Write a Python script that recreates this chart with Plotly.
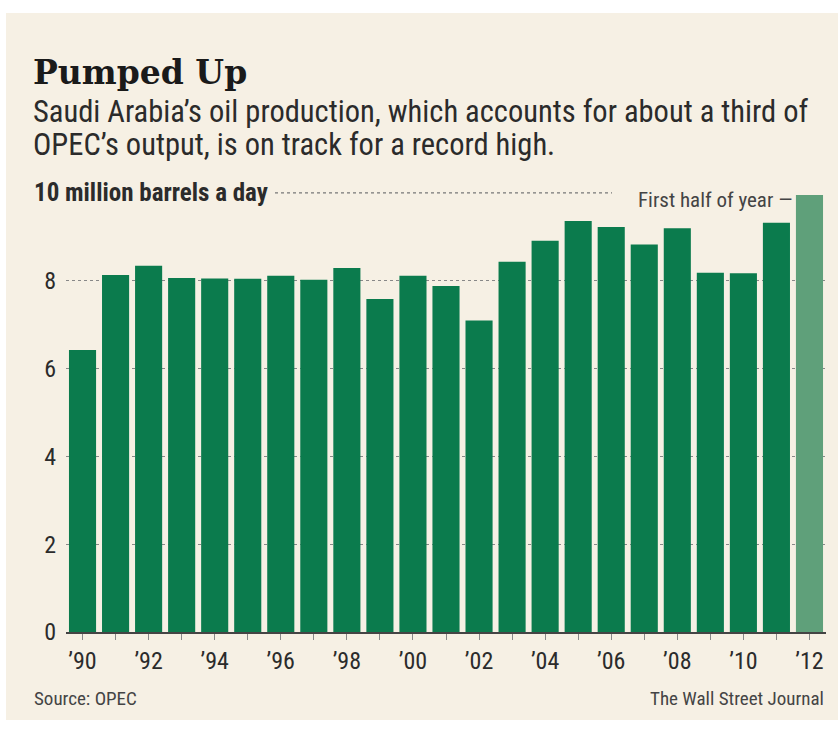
import plotly.graph_objects as go

years = list(range(1990, 2013))
production = [6.42, 8.13, 8.34, 8.06, 8.05, 8.04, 8.11, 8.02, 8.29, 7.58, 8.11,
              7.88, 7.09, 8.43, 8.91, 9.36, 9.22, 8.82, 9.19, 8.18, 8.17, 9.32, 9.95]
tick_labels = [("\u2019" + str(y)[2:] if (y % 2 == 0) else "") for y in years]
y_ticks = [0, 2, 4, 6, 8]

DARK = "#0b7b4d"
LIGHT = "#5fa07a"
CREAM = "#f6f0e4"
TEXT = "#2b2b2b"
NARROW = "Liberation Sans Narrow, Roboto Condensed, Arial Narrow, Liberation Sans, sans-serif"

colors = [DARK] * (len(years) - 1) + [LIGHT]

L, R, T, B = 66, 12, 184, 97
W, H = 838, 729
PW, PH = W - L - R, H - T - B

def px(x):
    return (x - L) / PW

def py(y):
    return (H - B - y) / PH

fig = go.Figure()
fig.add_trace(go.Bar(x=years, y=production, marker=dict(color=colors, line=dict(width=0)),
                     hoverinfo="x+y"))

shapes = [
    dict(type="rect", xref="paper", yref="paper", x0=px(6), x1=px(838), y0=py(720), y1=py(13),
         fillcolor=CREAM, line=dict(width=0), layer="below"),
    dict(type="line", xref="paper", yref="y", x0=px(275), x1=px(612), y0=10, y1=10,
         line=dict(color="#777", width=1.2, dash="dot"), layer="below"),
]

annotations = [
    dict(text="<b>Pumped Up</b>", x=px(31), y=py(72), xref="paper", yref="paper",
         xanchor="left", yanchor="middle", showarrow=False,
         font=dict(family="DejaVu Serif", size=33, color="#1a1a1a")),
    dict(text="Saudi Arabia\u2019s oil production, which accounts for about a third of",
         x=px(31), y=py(112), xref="paper", yref="paper", xanchor="left", yanchor="middle",
         showarrow=False, font=dict(family=NARROW, size=30.5, color=TEXT)),
    dict(text="OPEC\u2019s output, is on track for a record high.",
         x=px(31), y=py(144), xref="paper", yref="paper", xanchor="left", yanchor="middle",
         showarrow=False, font=dict(family=NARROW, size=30.5, color=TEXT)),
    dict(text="<b>10 million barrels a day</b>", x=px(32), y=10, xref="paper", yref="y",
         xanchor="left", yanchor="middle", showarrow=False,
         font=dict(family=NARROW, size=25, color=TEXT)),
    dict(text="First half of year \u2014", x=px(794), y=py(200), xref="paper", yref="paper",
         xanchor="right", yanchor="middle", showarrow=False,
         font=dict(family=NARROW, size=21, color="#444")),
    dict(text="Source: OPEC", x=px(32), y=py(698), xref="paper", yref="paper",
         xanchor="left", yanchor="middle", showarrow=False,
         font=dict(family=NARROW, size=19, color="#444")),
    dict(text="The Wall Street Journal", x=px(826), y=py(698), xref="paper", yref="paper",
         xanchor="right", yanchor="middle", showarrow=False,
         font=dict(family=NARROW, size=19, color="#444")),
]

fig.update_layout(
    width=W, height=H,
    margin=dict(l=L, r=R, t=T, b=B, pad=0),
    paper_bgcolor="white", plot_bgcolor="rgba(0,0,0,0)",
    bargap=0.18, showlegend=False,
    shapes=shapes, annotations=annotations,
    xaxis=dict(range=[1989.5, 2012.5], tickvals=years, ticktext=tick_labels,
               ticks="outside", ticklen=6, tickcolor="#888", tickwidth=1,
               showline=True, linecolor="#444", linewidth=2, showgrid=False, zeroline=False,
               tickfont=dict(family=NARROW, size=24, color=TEXT), fixedrange=True),
    yaxis=dict(range=[0, 10.2], tickvals=y_ticks, ticktext=[str(v) for v in y_ticks],
               showgrid=True, gridcolor="#888", griddash="dot", gridwidth=1,
               zeroline=False, showline=False, ticks="", ticklabelstandoff=9,
               tickfont=dict(family=NARROW, size=24, color=TEXT), fixedrange=True),
)

fig.write_html("out.html", config={"displayModeBar": False},
               post_script="document.body.style.margin='0px';document.body.style.padding='0px';")
